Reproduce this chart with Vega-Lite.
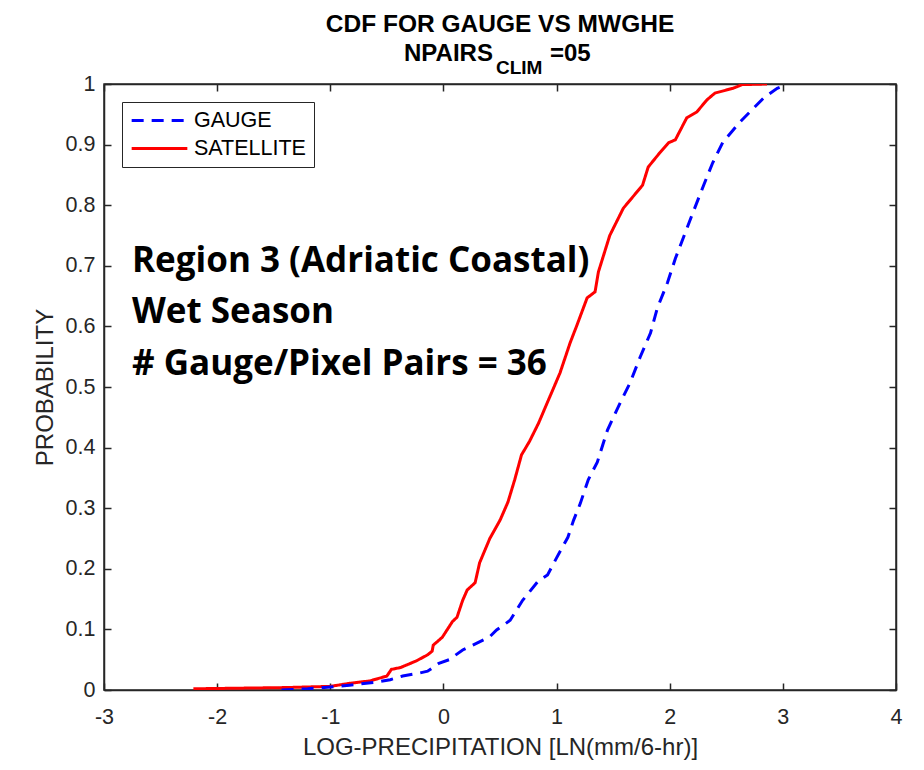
{
  "$schema": "https://vega.github.io/schema/vega-lite/v6.json",
  "width": 792,
  "height": 606,
  "autosize": {"type": "none"},
  "padding": {"left": 104, "top": 84, "right": 28, "bottom": 80},
  "background": "white",
  "config": {
    "view": {"stroke": "#262626", "strokeWidth": 1.5},
    "axis": {"grid": false, "domainColor": "#262626", "domainWidth": 1.5, "tickColor": "#262626", "tickWidth": 1.5, "labelFont": "Liberation Sans", "labelFontSize": 21.5, "labelColor": "#262626", "titleFont": "Liberation Sans", "titleFontSize": 24, "titleFontWeight": "normal", "titleColor": "#262626", "labelFlush": false, "labelOverlap": false, "labelBound": false}
  },
  "data": {"values": [
    {"series": "SATELLITE", "x": -2.21, "p": 0.002}, {"series": "SATELLITE", "x": -1.8, "p": 0.003}, {"series": "SATELLITE", "x": -1.4, "p": 0.004}, {"series": "SATELLITE", "x": -1.0, "p": 0.006}, {"series": "SATELLITE", "x": -0.83, "p": 0.011}, {"series": "SATELLITE", "x": -0.65, "p": 0.015}, {"series": "SATELLITE", "x": -0.5, "p": 0.023}, {"series": "SATELLITE", "x": -0.46, "p": 0.034}, {"series": "SATELLITE", "x": -0.38, "p": 0.037}, {"series": "SATELLITE", "x": -0.24, "p": 0.048}, {"series": "SATELLITE", "x": -0.14, "p": 0.058}, {"series": "SATELLITE", "x": -0.1, "p": 0.064}, {"series": "SATELLITE", "x": -0.09, "p": 0.074}, {"series": "SATELLITE", "x": -0.01, "p": 0.087}, {"series": "SATELLITE", "x": 0.08, "p": 0.113}, {"series": "SATELLITE", "x": 0.12, "p": 0.12}, {"series": "SATELLITE", "x": 0.17, "p": 0.148}, {"series": "SATELLITE", "x": 0.21, "p": 0.165}, {"series": "SATELLITE", "x": 0.28, "p": 0.177}, {"series": "SATELLITE", "x": 0.32, "p": 0.21}, {"series": "SATELLITE", "x": 0.41, "p": 0.25}, {"series": "SATELLITE", "x": 0.5, "p": 0.28}, {"series": "SATELLITE", "x": 0.57, "p": 0.31}, {"series": "SATELLITE", "x": 0.63, "p": 0.347}, {"series": "SATELLITE", "x": 0.69, "p": 0.388}, {"series": "SATELLITE", "x": 0.76, "p": 0.41}, {"series": "SATELLITE", "x": 0.84, "p": 0.44}, {"series": "SATELLITE", "x": 0.92, "p": 0.475}, {"series": "SATELLITE", "x": 1.03, "p": 0.523}, {"series": "SATELLITE", "x": 1.12, "p": 0.573}, {"series": "SATELLITE", "x": 1.18, "p": 0.602}, {"series": "SATELLITE", "x": 1.27, "p": 0.647}, {"series": "SATELLITE", "x": 1.34, "p": 0.657}, {"series": "SATELLITE", "x": 1.37, "p": 0.69}, {"series": "SATELLITE", "x": 1.47, "p": 0.75}, {"series": "SATELLITE", "x": 1.59, "p": 0.795}, {"series": "SATELLITE", "x": 1.76, "p": 0.833}, {"series": "SATELLITE", "x": 1.81, "p": 0.863}, {"series": "SATELLITE", "x": 1.91, "p": 0.886}, {"series": "SATELLITE", "x": 1.99, "p": 0.903}, {"series": "SATELLITE", "x": 2.05, "p": 0.908}, {"series": "SATELLITE", "x": 2.15, "p": 0.944}, {"series": "SATELLITE", "x": 2.24, "p": 0.954}, {"series": "SATELLITE", "x": 2.33, "p": 0.974}, {"series": "SATELLITE", "x": 2.4, "p": 0.985}, {"series": "SATELLITE", "x": 2.56, "p": 0.993}, {"series": "SATELLITE", "x": 2.64, "p": 0.999}, {"series": "SATELLITE", "x": 2.86, "p": 1.0},
    {"series": "GAUGE", "x": -1.43, "p": 0.0}, {"series": "GAUGE", "x": -1.2, "p": 0.002}, {"series": "GAUGE", "x": -1.0, "p": 0.005}, {"series": "GAUGE", "x": -0.83, "p": 0.008}, {"series": "GAUGE", "x": -0.59, "p": 0.013}, {"series": "GAUGE", "x": -0.47, "p": 0.017}, {"series": "GAUGE", "x": -0.36, "p": 0.023}, {"series": "GAUGE", "x": -0.21, "p": 0.028}, {"series": "GAUGE", "x": -0.14, "p": 0.031}, {"series": "GAUGE", "x": -0.04, "p": 0.044}, {"series": "GAUGE", "x": 0.05, "p": 0.05}, {"series": "GAUGE", "x": 0.17, "p": 0.066}, {"series": "GAUGE", "x": 0.26, "p": 0.074}, {"series": "GAUGE", "x": 0.41, "p": 0.088}, {"series": "GAUGE", "x": 0.47, "p": 0.099}, {"series": "GAUGE", "x": 0.59, "p": 0.115}, {"series": "GAUGE", "x": 0.63, "p": 0.127}, {"series": "GAUGE", "x": 0.7, "p": 0.148}, {"series": "GAUGE", "x": 0.83, "p": 0.178}, {"series": "GAUGE", "x": 0.92, "p": 0.19}, {"series": "GAUGE", "x": 1.0, "p": 0.218}, {"series": "GAUGE", "x": 1.1, "p": 0.252}, {"series": "GAUGE", "x": 1.15, "p": 0.28}, {"series": "GAUGE", "x": 1.21, "p": 0.308}, {"series": "GAUGE", "x": 1.28, "p": 0.347}, {"series": "GAUGE", "x": 1.36, "p": 0.376}, {"series": "GAUGE", "x": 1.45, "p": 0.429}, {"series": "GAUGE", "x": 1.56, "p": 0.473}, {"series": "GAUGE", "x": 1.65, "p": 0.507}, {"series": "GAUGE", "x": 1.74, "p": 0.55}, {"series": "GAUGE", "x": 1.83, "p": 0.589}, {"series": "GAUGE", "x": 1.89, "p": 0.63}, {"series": "GAUGE", "x": 1.98, "p": 0.672}, {"series": "GAUGE", "x": 2.05, "p": 0.712}, {"series": "GAUGE", "x": 2.14, "p": 0.756}, {"series": "GAUGE", "x": 2.21, "p": 0.79}, {"series": "GAUGE", "x": 2.3, "p": 0.833}, {"series": "GAUGE", "x": 2.38, "p": 0.87}, {"series": "GAUGE", "x": 2.47, "p": 0.904}, {"series": "GAUGE", "x": 2.62, "p": 0.937}, {"series": "GAUGE", "x": 2.74, "p": 0.96}, {"series": "GAUGE", "x": 2.83, "p": 0.977}, {"series": "GAUGE", "x": 2.95, "p": 0.993}, {"series": "GAUGE", "x": 3.02, "p": 0.998}
  ]},
  "resolve": {"axis": {"x": "independent", "y": "independent"}},
  "layer": [
    {
      "mark": {"type": "line", "strokeWidth": 3, "clip": true},
      "encoding": {
        "x": {"field": "x", "type": "quantitative", "scale": {"domain": [-3, 4], "nice": false, "zero": false},
          "axis": {"orient": "bottom", "values": [-3, -2, -1, 0, 1, 2, 3, 4], "tickSize": -7, "labelPadding": 23, "labelExpr": "'' + datum.value", "title": "LOG-PRECIPITATION [LN(mm/6-hr)]", "titlePadding": 8}},
        "y": {"field": "p", "type": "quantitative", "scale": {"domain": [0, 1], "nice": false, "zero": false},
          "axis": {"orient": "left", "values": [0, 0.1, 0.2, 0.3, 0.4, 0.5, 0.6, 0.7, 0.8, 0.9, 1], "tickSize": -7, "labelPadding": 16, "labelExpr": "format(datum.value, '~g')", "title": "PROBABILITY", "titlePadding": 8}},
        "color": {"field": "series", "type": "nominal", "scale": {"domain": ["GAUGE", "SATELLITE"], "range": ["#0000ff", "#ff0000"]},
          "legend": {"orient": "top-left", "offset": 18, "title": null, "strokeColor": "#262626", "fillColor": "white", "padding": 8, "labelFont": "Liberation Sans", "labelFontSize": 21.5, "labelColor": "#000000", "symbolStrokeWidth": 3, "symbolSize": 3100, "symbolType": "stroke", "labelOffset": 5, "rowPadding": 6, "clipHeight": 21}},
        "strokeDash": {"field": "series", "type": "nominal", "scale": {"domain": ["GAUGE", "SATELLITE"], "range": [[12, 8], [1, 0]]}, "legend": null}
      }
    },
    {
      "data": {"values": [{"t": "CDF FOR GAUGE VS MWGHE"}]},
      "mark": {"type": "text", "font": "Liberation Sans", "fontSize": 24.5, "fontWeight": "bold", "align": "center", "baseline": "alphabetic", "color": "#000000"},
      "encoding": {
        "x": {"datum": 0.5, "type": "quantitative", "axis": {"orient": "top", "labels": false, "title": null, "values": [-3, -2, -1, 0, 1, 2, 3, 4], "tickSize": -7}},
        "y": {"datum": 1.0866, "type": "quantitative", "axis": {"orient": "right", "labels": false, "title": null, "values": [0, 0.1, 0.2, 0.3, 0.4, 0.5, 0.6, 0.7, 0.8, 0.9, 1], "tickSize": -7}},
        "text": {"field": "t"}
      }
    },
    {
      "data": {"values": [{"t": "NPAIRS"}]},
      "mark": {"type": "text", "font": "Liberation Sans", "fontSize": 24, "fontWeight": "bold", "align": "left", "baseline": "alphabetic", "color": "#000000"},
      "encoding": {
        "x": {"datum": -0.3484, "type": "quantitative", "axis": null},
        "y": {"datum": 1.038, "type": "quantitative", "axis": null},
        "text": {"field": "t"}
      }
    },
    {
      "data": {"values": [{"t": "CLIM"}]},
      "mark": {"type": "text", "font": "Liberation Sans", "fontSize": 19, "fontWeight": "bold", "align": "left", "baseline": "alphabetic", "color": "#000000"},
      "encoding": {
        "x": {"datum": 0.4647, "type": "quantitative", "axis": null},
        "y": {"datum": 1.0165, "type": "quantitative", "axis": null},
        "text": {"field": "t"}
      }
    },
    {
      "data": {"values": [{"t": "=05"}]},
      "mark": {"type": "text", "font": "Liberation Sans", "fontSize": 24, "fontWeight": "bold", "align": "left", "baseline": "alphabetic", "color": "#000000"},
      "encoding": {
        "x": {"datum": 0.942, "type": "quantitative", "axis": null},
        "y": {"datum": 1.038, "type": "quantitative", "axis": null},
        "text": {"field": "t"}
      }
    },
    {
      "data": {"values": [{"t": ["Region 3 (Adriatic Coastal)", "Wet Season", "# Gauge/Pixel Pairs = 36"]}]},
      "mark": {"type": "text", "font": "Open Sans", "fontSize": 35, "fontWeight": "bold", "align": "left", "baseline": "alphabetic", "lineHeight": 51.5, "color": "#000000"},
      "encoding": {
        "x": {"datum": -2.7525, "type": "quantitative", "axis": null},
        "y": {"datum": 0.6898, "type": "quantitative", "axis": null},
        "text": {"field": "t"}
      }
    }
  ]
}
